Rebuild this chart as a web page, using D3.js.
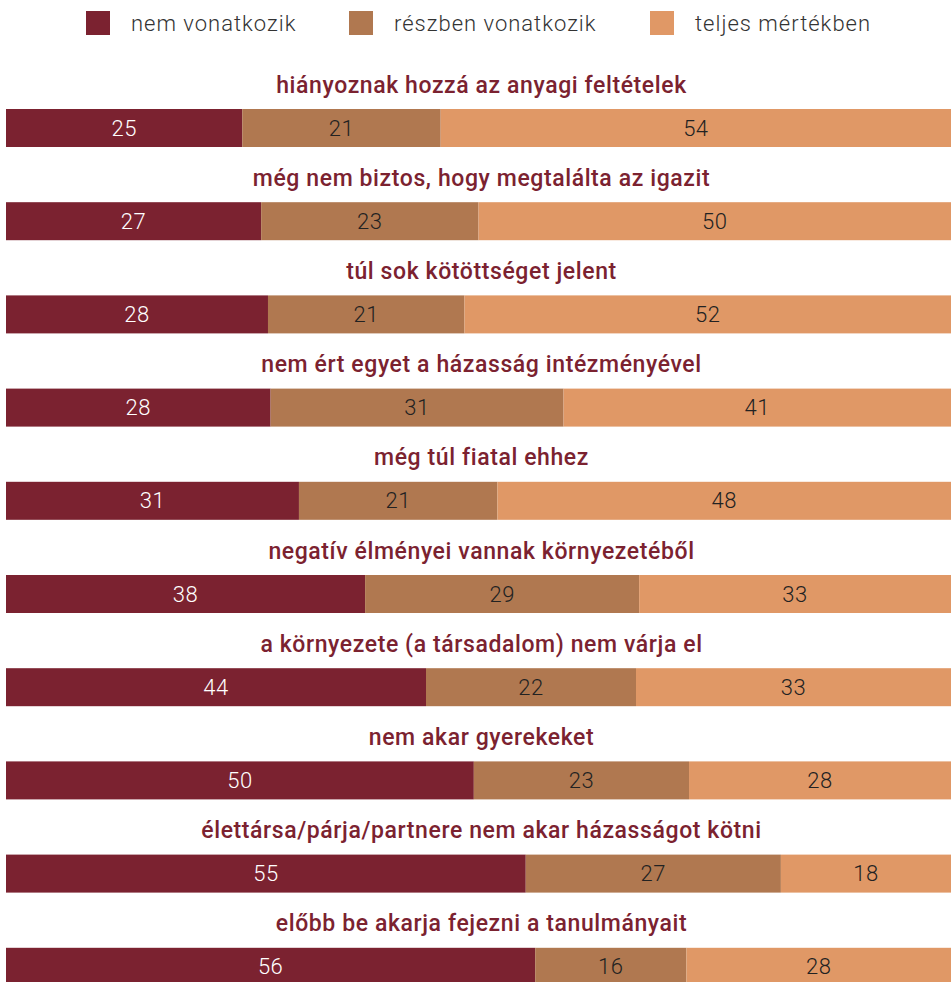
<!DOCTYPE html>
<html>
<head>
    <meta charset="utf-8">
    <title>Stacked bars</title>
    <script src="https://d3js.org/d3.v7.min.js"></script>
    <style>
        body { margin: 0; background: #fff; }
        svg { display: block; font-family: Roboto, "Noto Sans", sans-serif; }
    </style>
</head>
<body>
    <div id="chart"></div>

    <script>
        // categories (top to bottom)
        const categories = [
            "hiányoznak hozzá az anyagi feltételek",
            "még nem biztos, hogy megtalálta az igazit",
            "túl sok kötöttséget jelent",
            "nem ért egyet a házasság intézményével",
            "még túl fiatal ehhez",
            "negatív élményei vannak környezetéből",
            "a környezete (a társadalom) nem várja el",
            "nem akar gyerekeket",
            "élettársa/párja/partnere nem akar házasságot kötni",
            "előbb be akarja fejezni a tanulmányait"
        ];

        const seriesNames = ["nem vonatkozik", "részben vonatkozik", "teljes mértékben"];

        const nemVonatkozik = [25, 27, 28, 28, 31, 38, 44, 50, 55, 56];
        const reszben = [21, 23, 21, 31, 21, 29, 22, 23, 27, 16];
        const teljes = [54, 50, 52, 41, 48, 33, 33, 28, 18, 28];

        const colors = ["#7b2230", "#b07850", "#e09866"];
        const labelColors = ["#ffffff", "#222222", "#222222"];

        const width = 951;
        const height = 982;

        const svg = d3.select("#chart")
            .append("svg")
            .attr("width", width)
            .attr("height", height);

        // legend
        const legendX = [86, 349, 650];
        const legend = svg.append("g");
        seriesNames.forEach((name, i) => {
            legend.append("rect")
                .attr("x", legendX[i])
                .attr("y", 11)
                .attr("width", 24)
                .attr("height", 24)
                .attr("fill", colors[i]);
            legend.append("text")
                .attr("x", legendX[i] + 45)
                .attr("y", 23)
                .attr("dominant-baseline", "central")
                .attr("font-size", 22)
                .attr("font-weight", 300)
                .attr("letter-spacing", 1)
                .attr("fill", "#333")
                .text(name);
        });

        // rows
        const yScale = d3.scaleBand()
            .domain(categories)
            .range([62, 62 + categories.length * 93.2])
            .paddingInner(0);

        const xScale = d3.scaleLinear().range([6, width]);

        const rows = categories.map((c, i) => ({
            cat: c,
            values: [nemVonatkozik[i], reszben[i], teljes[i]]
        }));

        const row = svg.selectAll("g.row")
            .data(rows)
            .join("g")
            .attr("class", "row")
            .attr("transform", d => `translate(0,${yScale(d.cat)})`);

        row.append("text")
            .attr("x", width / 2 + 6)
            .attr("y", 23)
            .attr("text-anchor", "middle")
            .attr("dominant-baseline", "central")
            .attr("font-size", 23)
            .attr("font-weight", 500)
            .attr("letter-spacing", 0.6)
            .attr("fill", "#7b2230")
            .text(d => d.cat);

        row.each(function(d) {
            const total = d3.sum(d.values);
            const x = xScale.copy().domain([0, total]);
            let acc = 0;
            const segs = d.values.map((v, k) => {
                const s = { k, v, x0: acc, x1: acc + v };
                acc += v;
                return s;
            });
            const g = d3.select(this);
            g.selectAll("rect")
                .data(segs)
                .join("rect")
                .attr("x", s => x(s.x0))
                .attr("y", 47)
                .attr("width", s => x(s.x1) - x(s.x0))
                .attr("height", 38)
                .attr("fill", s => colors[s.k]);
            g.selectAll("text.val")
                .data(segs)
                .join("text")
                .attr("class", "val")
                .attr("x", s => (x(s.x0) + x(s.x1)) / 2)
                .attr("y", 66)
                .attr("text-anchor", "middle")
                .attr("dominant-baseline", "central")
                .attr("font-size", 22)
                .attr("font-weight", 300)
                .attr("letter-spacing", 0.5)
                .attr("fill", s => labelColors[s.k])
                .text(s => s.v);
        });
    </script>
</body>
</html>
